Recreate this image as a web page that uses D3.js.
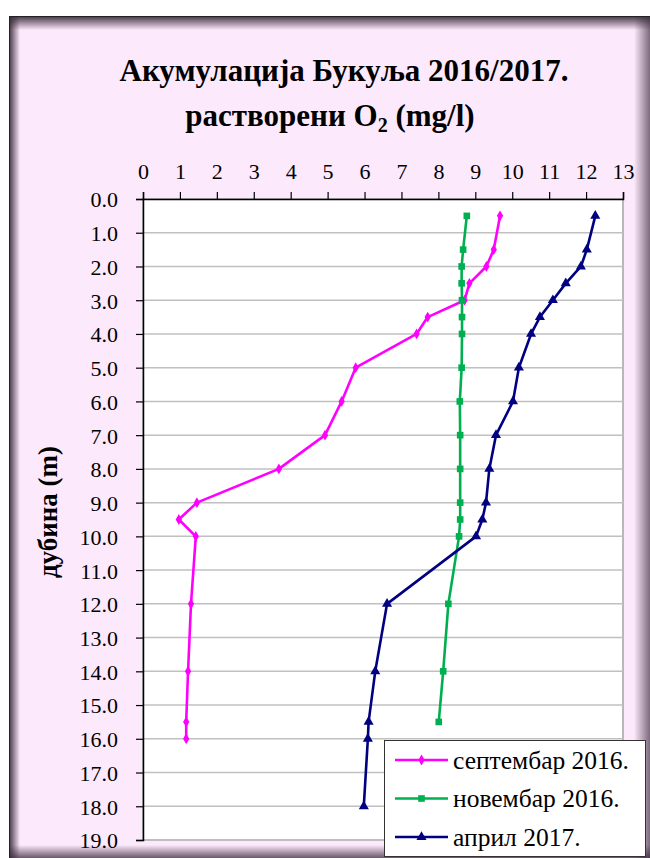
<!DOCTYPE html>
<html><head><meta charset="utf-8">
<script src="https://cdn.jsdelivr.net/npm/d3@7"></script>
<style>html,body{margin:0;padding:0;background:#fff;}svg{display:block;}
svg text{font-family:"Liberation Serif","Times New Roman","DejaVu Serif",serif;}</style>
</head><body>
<script>
// ---- data ----
const titleLine1 = "Акумулација Букуља 2016/2017.";
const yAxisTitle = "дубина (m)";
const seriesNames = ["септембар 2016.", "новембар 2016.", "април 2017."];
const xTicks = [0,1,2,3,4,5,6,7,8,9,10,11,12,13];
const yTicks = [0,1,2,3,4,5,6,7,8,9,10,11,12,13,14,15,16,17,18,19];
const depthSep = [0.5,1.5,2,2.5,3,3.5,4,5,6,7,8,9,9.5,10,12,14,15.5,16];
const o2Sep    = [9.67,9.50,9.30,8.84,8.71,7.71,7.41,5.76,5.38,4.93,3.68,1.46,0.97,1.43,1.30,1.22,1.17,1.17];
const depthNov = [0.5,1.5,2,2.5,3,3.5,4,5,6,7,8,9,9.5,10,12,14,15.5];
const o2Nov    = [8.77,8.67,8.63,8.63,8.64,8.64,8.64,8.63,8.58,8.59,8.59,8.59,8.59,8.56,8.27,8.13,8.01];
const depthApr = [0.5,1.5,2,2.5,3,3.5,4,5,6,7,8,9,9.5,10,12,14,15.5,16,18];
const o2Apr    = [12.25,12.02,11.86,11.45,11.10,10.75,10.51,10.18,10.02,9.56,9.38,9.29,9.19,9.02,6.61,6.29,6.11,6.09,5.98];

const W = 650, H = 858;
const colors = ["#FF00FF", "#00B050", "#000080"];
const symbols = [d3.symbolDiamond, d3.symbolSquare, d3.symbolTriangle];
const symSizes = [34, 44, 44];

const svg = d3.select("body").append("svg").attr("width", W).attr("height", H);
const defs = svg.append("defs");
function grad(id, x1, y1, x2, y2) {
  const g = defs.append("linearGradient").attr("id", id)
    .attr("x1", x1).attr("y1", y1).attr("x2", x2).attr("y2", y2);
  g.append("stop").attr("offset", "0%").attr("stop-color", "#3a2a3a").attr("stop-opacity", 0.95);
  g.append("stop").attr("offset", "100%").attr("stop-color", "#3a2a3a").attr("stop-opacity", 0);
}
grad("gL", "0", "0", "1", "0");
grad("gT", "0", "0", "0", "1");
grad("gR", "1", "0", "0", "0");
grad("gB", "0", "1", "0", "0");

// frame
const fx = 9, fy = 16, fw = W - fx, fh = H - fy;
svg.append("rect").attr("x", fx).attr("y", fy).attr("width", fw).attr("height", fh).attr("fill", "#FCE9FC");
svg.append("rect").attr("x", fx).attr("y", fy).attr("width", 11).attr("height", fh).attr("fill", "url(#gL)");
svg.append("rect").attr("x", fx).attr("y", fy).attr("width", fw).attr("height", 14).attr("fill", "url(#gT)");
svg.append("rect").attr("x", W - 16).attr("y", fy).attr("width", 16).attr("height", fh).attr("fill", "url(#gR)").attr("opacity", 0.7);
svg.append("rect").attr("x", fx).attr("y", H - 13).attr("width", fw).attr("height", 13).attr("fill", "url(#gB)").attr("opacity", 0.8);
svg.append("line").attr("x1", fx).attr("x2", W).attr("y1", fy + 0.5).attr("y2", fy + 0.5).attr("stroke", "#222");
svg.append("line").attr("x1", fx + 0.5).attr("x2", fx + 0.5).attr("y1", fy).attr("y2", H).attr("stroke", "#222");

// plot area
const px0 = 143, px1 = 623, py0 = 199, py1 = 840;
const x = d3.scaleLinear().domain([0, 13]).range([px0, px1]);
const y = d3.scaleLinear().domain([0, 19]).range([py0, py1]);

svg.append("rect").attr("x", px0).attr("y", py0).attr("width", px1 - px0).attr("height", py1 - py0)
  .attr("fill", "#fff").attr("stroke", "#b8b8b8").attr("stroke-width", 2);

// gridlines
svg.append("g").selectAll("line").data(yTicks.slice(1)).join("line")
  .attr("x1", px0).attr("x2", px1).attr("y1", d => y(d)).attr("y2", d => y(d))
  .attr("stroke", "#c0c0c0").attr("stroke-width", 1.5);

// axes
const xAxis = svg.append("g").attr("transform", `translate(0,${py0})`)
  .call(d3.axisTop(x).tickValues(xTicks).tickFormat(d3.format("d")).tickSize(7).tickPadding(13));
const yAxis = svg.append("g").attr("transform", `translate(${px0},0)`)
  .call(d3.axisLeft(y).tickValues(yTicks).tickFormat(d3.format(".1f")).tickSize(7).tickPadding(18));
[xAxis, yAxis].forEach(a => {
  a.attr("font-family", null);
  a.select(".domain").attr("stroke", "#000").attr("stroke-width", 1.5);
  a.selectAll(".tick line").attr("stroke", "#000").attr("stroke-width", 1.2);
  a.selectAll(".tick text").attr("font-size", 22).attr("fill", "#000");
});
yAxis.selectAll(".tick text").attr("dy", "0.36em");

// series
const series = [
  {name: seriesNames[0], d: depthSep, v: o2Sep},
  {name: seriesNames[1], d: depthNov, v: o2Nov},
  {name: seriesNames[2], d: depthApr, v: o2Apr}
];
const line = d3.line().x(p => x(p[0])).y(p => y(p[1]));
series.forEach((s, i) => {
  const pts = s.v.map((v, k) => [v, s.d[k]]);
  svg.append("path").datum(pts).attr("d", line).attr("fill", "none")
    .attr("stroke", colors[i]).attr("stroke-width", 2.6).attr("stroke-linejoin", "round");
  svg.append("g").selectAll("path").data(pts).join("path")
    .attr("transform", p => `translate(${x(p[0])},${y(p[1])})`)
    .attr("d", d3.symbol().type(symbols[i]).size(symSizes[i]))
    .attr("fill", colors[i]);
});

// titles
svg.append("text").attr("x", 344).attr("y", 81).attr("text-anchor", "middle")
  .attr("font-weight", "bold").attr("font-size", 31).text(titleLine1);
const t2 = svg.append("text").attr("x", 330).attr("y", 126).attr("text-anchor", "middle")
  .attr("font-weight", "bold").attr("font-size", 31);
t2.append("tspan").text("растворени O");
t2.append("tspan").attr("font-size", 20).attr("dy", 6).text("2");
t2.append("tspan").attr("dy", -6).text(" (mg/l)");

svg.append("text").attr("transform", `translate(57,512) rotate(-90)`).attr("text-anchor", "middle")
  .attr("font-weight", "bold").attr("font-size", 27).text(yAxisTitle);

// legend
const lg = svg.append("g");
lg.append("rect").attr("x", 384.5).attr("y", 740.5).attr("width", 261).attr("height", 116)
  .attr("fill", "#fff").attr("stroke", "#333").attr("stroke-width", 1);
series.forEach((s, i) => {
  const ly = 760 + i * 38.5;
  lg.append("line").attr("x1", 395).attr("x2", 448).attr("y1", ly).attr("y2", ly)
    .attr("stroke", colors[i]).attr("stroke-width", 2.6);
  lg.append("path").attr("transform", `translate(421.5,${ly})`)
    .attr("d", d3.symbol().type(symbols[i]).size(symSizes[i])).attr("fill", colors[i]);
  lg.append("text").attr("x", 453).attr("y", ly).attr("dy", "0.35em")
    .attr("font-size", 25.5).attr("fill", "#000").text(s.name);
});
</script>
</body></html>
